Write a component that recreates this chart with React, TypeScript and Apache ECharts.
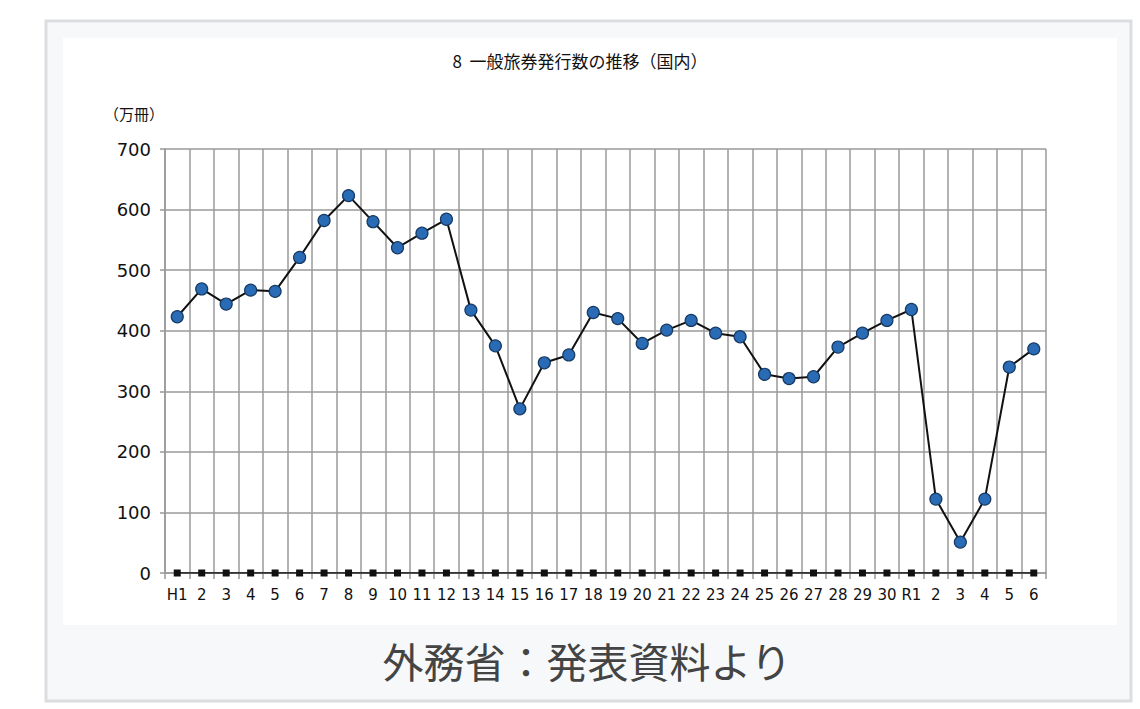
import React, { useEffect, useRef } from "react";
import * as echarts from "echarts";

const categories = [
  "H1", "2", "3", "4", "5", "6", "7", "8", "9", "10",
  "11", "12", "13", "14", "15", "16", "17", "18", "19", "20",
  "21", "22", "23", "24", "25", "26", "27", "28", "29", "30",
  "R1", "2", "3", "4", "5", "6",
];

const passports = [
  423, 469, 444, 467, 465, 521, 582, 623, 580, 537,
  561, 584, 434, 375, 271, 347, 360, 430, 420, 379,
  401, 417, 396, 390, 328, 321, 324, 373, 396, 417,
  435, 122, 51, 122, 340, 370,
];

const zeroLine = categories.map(() => 0);

const yTicks = [0, 100, 200, 300, 400, 500, 600, 700];

const titleText = "8  一般旅券発行数の推移（国内）";
const unitText = "（万冊）";
const captionText = "外務省：発表資料より";

export default function App() {
  const ref = useRef<HTMLDivElement>(null);

  useEffect(() => {
    if (!ref.current) return;
    const chart = echarts.init(ref.current, undefined, { renderer: "svg" });
    chart.setOption({
      animation: false,
      backgroundColor: "#ffffff",
      graphic: [
        {
          type: "rect",
          z: -10,
          silent: true,
          shape: { x: 46, y: 21, width: 1085, height: 680 },
          style: { fill: "#f7f8fa", stroke: "#dcdde1", lineWidth: 3 },
        },
        {
          type: "rect",
          z: -9,
          silent: true,
          shape: { x: 63, y: 38, width: 1054, height: 587 },
          style: { fill: "#ffffff" },
        },
        {
          type: "text",
          x: 580,
          y: 60,
          style: {
            text: titleText,
            fill: "#111",
            font: "17px 'Noto Sans CJK JP'",
            textAlign: "center",
            textVerticalAlign: "middle",
          },
        },
        {
          type: "text",
          x: 104,
          y: 113,
          style: {
            text: unitText,
            fill: "#111",
            font: "15px 'Noto Sans CJK JP'",
            textAlign: "left",
            textVerticalAlign: "middle",
          },
        },
        {
          type: "text",
          x: 587,
          y: 660,
          style: {
            text: captionText,
            fill: "#444",
            font: "41px 'Noto Sans CJK JP'",
            textAlign: "center",
            textVerticalAlign: "middle",
          },
        },
      ],
      grid: { left: 165, right: 94, top: 149, bottom: 136, containLabel: false },
      xAxis: {
        type: "category",
        data: categories,
        boundaryGap: true,
        axisLine: { show: true, lineStyle: { color: "#999", width: 1.5 } },
        axisTick: { show: true, interval: 0, length: 6, lineStyle: { color: "#999", width: 1.5 } },
        splitLine: { show: true, interval: 0, lineStyle: { color: "#9a9a9a", width: 1.5 } },
        axisLabel: {
          interval: 0,
          color: "#111",
          fontSize: 15,
          fontFamily: "DejaVu Sans",
          margin: 14,
        },
      },
      yAxis: {
        type: "value",
        min: 0,
        max: 700,
        interval: 100,
        axisLine: { show: true, lineStyle: { color: "#999", width: 1.5 } },
        axisTick: { show: true, length: 5, lineStyle: { color: "#999", width: 1.5 } },
        splitLine: { show: true, lineStyle: { color: "#9a9a9a", width: 1.5 } },
        axisLabel: {
          color: "#111",
          fontSize: 18,
          fontFamily: "DejaVu Sans",
          margin: 14,
          formatter: (v: number) => (yTicks.includes(v) ? String(v) : ""),
        },
      },
      series: [
        {
          type: "line",
          data: zeroLine,
          symbol: "rect",
          symbolSize: 7,
          itemStyle: { color: "#111" },
          lineStyle: { color: "#111", width: 1.5 },
          z: 3,
        },
        {
          type: "line",
          data: passports,
          symbol: "circle",
          symbolSize: 12,
          itemStyle: { color: "#2a6bb5", borderColor: "#163a63", borderWidth: 1.2 },
          lineStyle: { color: "#111", width: 2 },
          z: 4,
        },
      ],
    });
    return () => chart.dispose();
  }, []);

  return (
    <div
      ref={ref}
      style={{ position: "fixed", left: 0, top: 0, width: 1140, height: 709 }}
    />
  );
}
